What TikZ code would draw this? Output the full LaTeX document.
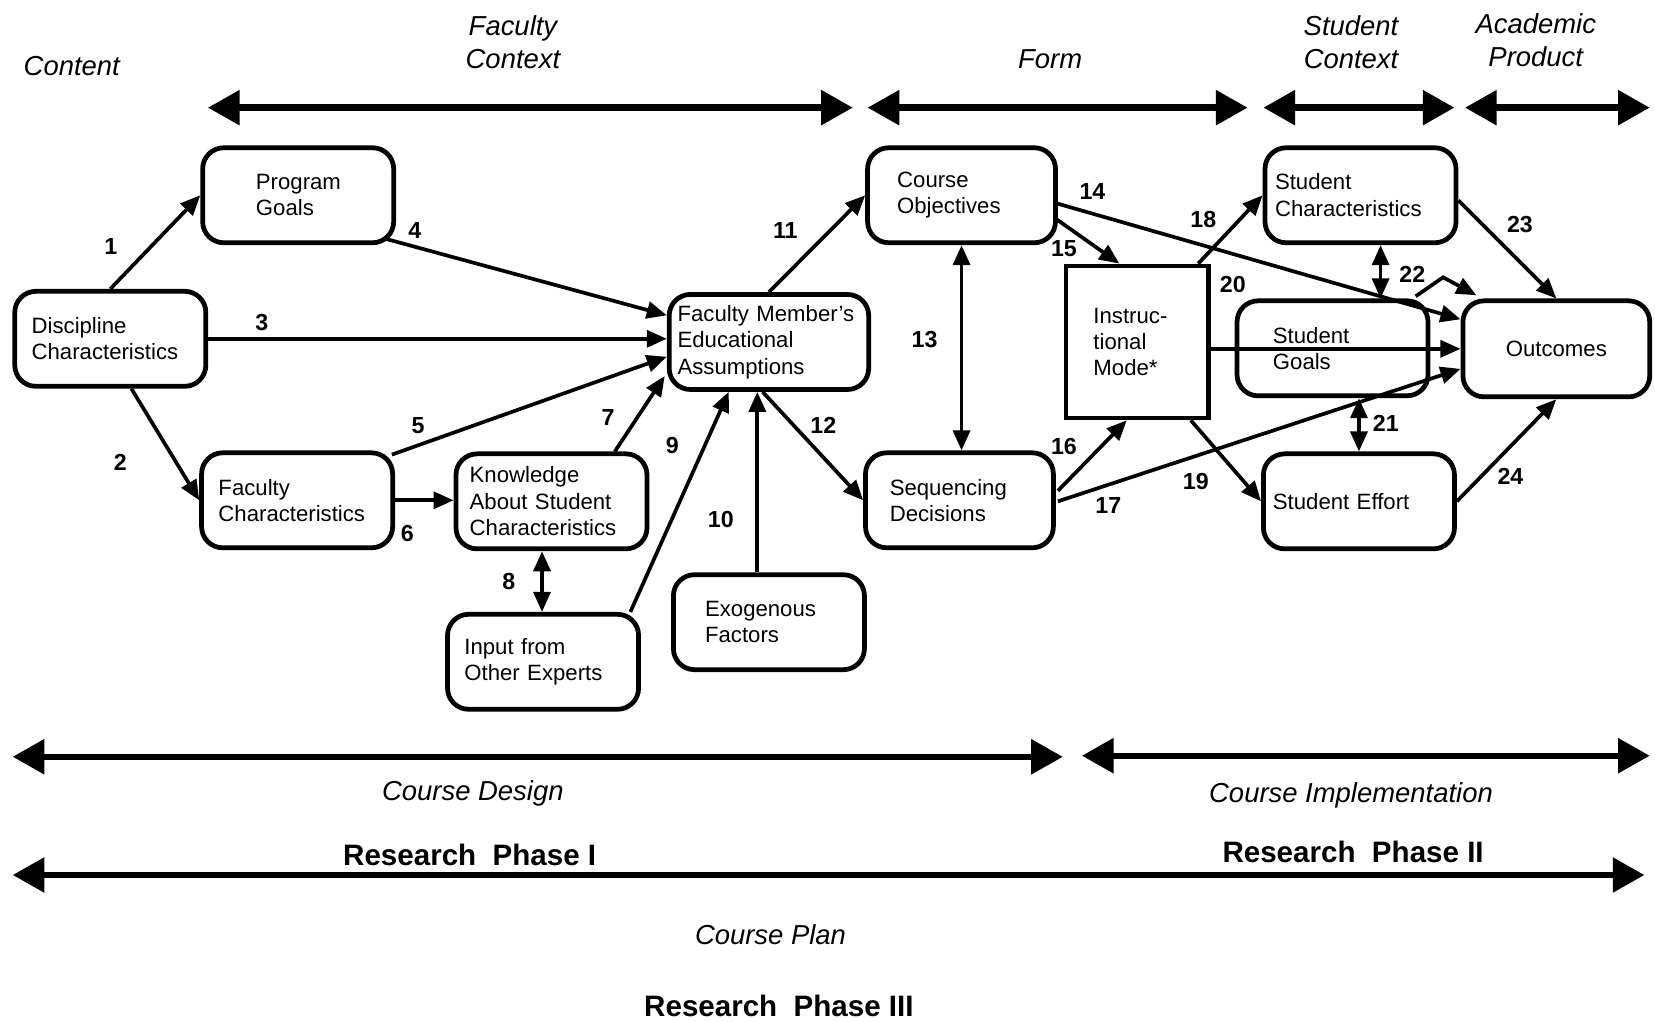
\documentclass[tikz,border=0pt]{standalone}
\usepackage{fontspec}
\setmainfont{Liberation Sans}
\usetikzlibrary{arrows.meta,calc}
\begin{document}
\begin{tikzpicture}[x=1pt,y=-1pt,
  box/.style={draw,line width=4.5pt,rounded corners=20pt,fill=white,align=left,
    font=\fontsize{21}{25}\selectfont,inner sep=0pt,
    minimum width=181pt,minimum height=90pt},
  sqbox/.style={box,rounded corners=0pt,minimum width=135pt,minimum height=144pt},
  link/.style={line width=3.5pt,-{Triangle[length=19pt,width=16pt]}},
  both/.style={line width=3.5pt,{Triangle[length=19pt,width=16pt]}-{Triangle[length=19pt,width=16pt]}},
  span/.style={line width=6pt,{Triangle[length=30pt,width=32pt]}-{Triangle[length=30pt,width=32pt]}},
  num/.style={font=\fontsize{22}{22}\selectfont\bfseries,inner sep=0pt},
  head/.style={font=\fontsize{26}{32}\selectfont\itshape,align=center,inner sep=0pt},
  phase/.style={font=\fontsize{28}{32}\selectfont\bfseries,inner sep=0pt},
]
\useasboundingbox (0,0) rectangle (1568,968);

% ---- boxes ----
\node[box,text width=149pt] (dc) at (104.5,321) {Discipline\\Characteristics};
\node[box,text width=80pt]  (pg) at (282.5,185) {Program\\Goals};
\node[box,text width=149pt] (fc) at (281.5,474) {Faculty\\Characteristics};
\node[box,text width=155pt] (ks) at (522.5,475) {Knowledge\\About Student\\Characteristics};
\node[box,text width=149pt] (ie) at (514.5,627) {Input from\\Other Experts};
\node[box,text width=121pt] (ef) at (728.5,589.5) {Exogenous\\Factors};
\node[box,text width=173pt,minimum width=189pt] (fm) at (728.5,324) {Faculty Member's\\Educational\\Assumptions};
\node[box,text width=122pt,minimum width=178pt] (co) at (911,185) {Course\\Objectives};
\node[box,text width=132pt,minimum width=178pt] (sd) at (909,474) {Sequencing\\Decisions};
\node[sqbox,text width=83pt] (im) at (1077.5,324) {Instruc-\\tional\\Mode*};
\node[box,text width=162pt] (sc) at (1289,185) {Student\\Characteristics};
\node[box,text width=113pt] (sg) at (1262.5,330) {Student\\Goals};
\node[box,text width=163pt] (se) at (1287.5,475) {Student Effort};
\node[box,align=center,minimum width=177pt,minimum height=91pt] (oc) at (1474.5,330.5) {Outcomes};

% ---- connectors ----
\draw[link] (dc.north) -- (pg.west);
\draw[link] ($(dc.south)+(20,0)$) -- (fc.west);
\draw[link] (dc.east) -- (dc.east -| fm.west);
\draw[link] ($(pg.south east)+(-10,-6)$) -- ($(fm.north west)+(0,22)$);
\draw[link] ($(fc.north east)+(-3,4)$) -- ($(fm.west)+(0,14)$);
\draw[link] (fc.east) -- (fc.east -| ks.west);
\draw[link] ($(ks.north)+(60,0)$) -- ($(fm.south west)+(-2,-15)$);
\draw[both] ($(ks.south)+(-9,0)$) -- ($(ie.north)+(-1,0)$);
\draw[link] ($(ie.north east)+(-10,0)$) -- ($(fm.south)+(-38,0)$);
\draw[link] ($(ef.north)+(-11,0)$) -- ($(fm.south)+(-11,0)$);
\draw[link] (fm.north) -- (co.west);
\draw[link] ($(fm.south)+(-6,0)$) -- (sd.west);
\draw[both] (co.south) -- (co.south |- sd.north);
\draw[link] ($(co.east)+(0,8)$) -- ($(oc.west)+(0,-28)$);
\draw[link] ($(co.south east)+(-2,-25)$) -- ($(im.north)+(-17,0)$);
\draw[link] ($(sd.east)+(2,-9)$) -- ($(im.south)+(-10,0)$);
\draw[link] ($(sd.east)+(2,1)$) -- ($(oc.west)+(0,19)$);
\draw[link] ($(im.north east)+(-12,0)$) -- (sc.west);
\draw[link] ($(im.south east)+(-19,0)$) -- (se.west);
\draw[link] (im.east |- oc.west) -- (oc.west);
\draw[both] (se.north |- sg.south) -- (se.north);
\draw[both] ($(sc.south)+(19,0)$) -- ($(sg.north)+(45.5,0)$);
\draw[link] ($(sg.north east)+(-14,-2)$) -- ($(sg.north east)+(12,-20)$) -- ($(oc.north west)+(15,-3)$);
\draw[link] ($(sc.east)+(0,5)$) -- (oc.north);
\draw[link] (se.east) -- (oc.south);

% ---- path numbers ----
\node[num] (n1)  at (105,234)  {1};
\node[num] (n2)  at (114,438)  {2};
\node[num] (n3)  at (248,306)  {3};
\node[num] (n4)  at (393,218)  {4};
\node[num] (n5)  at (396,403)  {5};
\node[num] (n6)  at (386,505)  {6};
\node[num] (n7)  at (576,396)  {7};
\node[num] (n8)  at (482,551)  {8};
\node[num] (n9)  at (637,422)  {9};
\node[num] (n10) at (683,492)  {10};
\node[num] (n11) at (744,218)  {11};
\node[num] (n12) at (780,403)  {12};
\node[num] (n13) at (876,322)  {13};
\node[num] (n14) at (1035,181) {14};
\node[num] (n15) at (1008,236) {15};
\node[num] (n16) at (1008,423) {16};
\node[num] (n17) at (1050,479) {17};
\node[num] (n18) at (1140,208) {18};
\node[num] (n19) at (1133,456) {19};
\node[num] (n20) at (1168,270) {20};
\node[num] (n21) at (1313,401) {21};
\node[num] (n22) at (1338,260) {22};
\node[num] (n23) at (1440,213) {23};
\node[num] (n24) at (1431,451) {24};

% ---- column headings and their spans ----
\node[head] (hcontent)  at (68,63)   {Content};
\node[head] (hfaculty)  at (486,40)  {Faculty\\Context};
\node[head] (hform)     at (995,56)  {Form};
\node[head] (hstudent)  at (1280,40) {Student\\Context};
\node[head] (hacademic) at (1455,38) {Academic\\Product};

\coordinate (fa) at (197,102);  \coordinate (fb) at (808,102);
\coordinate (ma) at (822,102);  \coordinate (mb) at (1182,102);
\coordinate (sa) at (1197,102); \coordinate (sb) at (1378,102);
\coordinate (aa) at (1388,102); \coordinate (ab) at (1563,102);
\draw[span] (fa) -- (fb);
\draw[span] (ma) -- (mb);
\draw[span] (sa) -- (sb);
\draw[span] (aa) -- (ab);

% ---- phases ----
\coordinate (da) at (12,717);   \coordinate (db) at (1007,717);
\coordinate (ia) at (1025,716); \coordinate (ib) at (1563,716);
\coordinate (pa) at (12,829);   \coordinate (pb) at (1558,829);
\draw[span] (da) -- (db);
\draw[span] (ia) -- (ib);
\draw[span] (pa) -- (pb);

\node[head]  (ldesign) at (448,752)  {Course Design};
\node[head]  (limpl)   at (1280,754) {Course Implementation};
\node[phase] (lp1)     at (445,810)  {Research\ \ Phase I};
\node[phase] (lp2)     at (1282,807) {Research\ \ Phase II};
\node[head]  (lplan)   at (730,886)  {Course Plan};
\node[phase] (lp3)     at (738,953)  {Research\ \ Phase III};
\end{tikzpicture}
\end{document}
